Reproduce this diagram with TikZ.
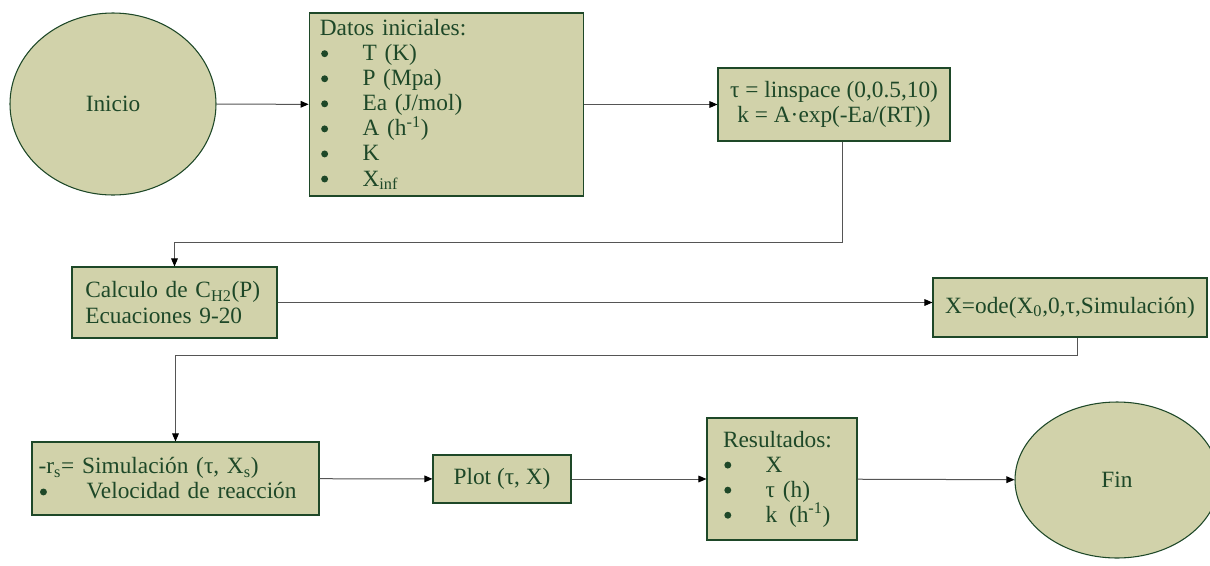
\documentclass[tikz,border=0pt]{standalone}
\usepackage{fontspec}
\setmainfont{Liberation Serif}
\usepackage{xcolor}
\usepackage{tikz}
\usetikzlibrary{shapes.geometric, arrows.meta, positioning}
\definecolor{olivefill}{RGB}{209,210,170}
\definecolor{darkgreen}{RGB}{30,72,40}
\definecolor{linegray}{RGB}{85,85,85}
\newcommand{\bigdot}{\tikz[baseline=0pt]\fill[darkgreen] (0,0.3em) circle (2.6pt);}
\newcommand{\bul}[1]{\makebox[32pt][l]{\hspace{1pt}\bigdot}#1}
\tikzset{
    block/.style={
        rectangle, draw=darkgreen, line width=0.8pt, fill=olivefill,
        text=darkgreen, inner sep=2pt, text centered,
        font=\fontsize{17.5}{18.8}\selectfont
    },
    listblock/.style={block, align=left},
    terminal/.style={
        ellipse, draw=darkgreen, line width=0.8pt, fill=olivefill,
        text=darkgreen, font=\fontsize{17.5}{18.8}\selectfont
    },
    arrow/.style={draw=linegray, line width=0.75pt, -{Triangle[length=6pt,width=5pt,color=black]}}
}

\begin{document}
\begin{tikzpicture}[x=0.75pt, y=-0.75pt]
    \useasboundingbox (0,0) rectangle (1210,565);
    % first row
    \node (inicio) [terminal, minimum width=154.5pt, minimum height=136.5pt] at (113,104) {Inicio};
    \node (datos) [listblock, inner xsep=8pt, text width=190pt, minimum height=137.25pt] at (446.5,104.5)
        {Datos iniciales:\\ \bul{T (K)}\\ \bul{P (Mpa)}\\ \bul{Ea (J/mol)}\\ \bul{A (h\textsuperscript{-1})}\\ \bul{K}\\ \bul{X\textsubscript{inf}}};
    \node (tau) [block, align=center, minimum width=174pt, minimum height=54.75pt] at (834,104.5)
        {τ = linspace (0,0.5,10)\\ k = A·exp(-Ea/(RT))};
    % second row
    \node (calc) [listblock, inner xsep=10pt, text width=133.75pt, minimum height=53.25pt] at (174.5,302.5)
        {Calculo de C\textsubscript{H2}(P)\\ Ecuaciones 9-20};
    \node (ode) [block, minimum width=205.5pt, minimum height=44.25pt] at (1070,307.5)
        {X=ode(X\textsubscript{0},0,τ,Simulación)};
    % third row
    \node (rs) [listblock, inner xsep=5pt, text width=205.25pt, minimum height=54.75pt] at (175.5,478.5)
        {-r\textsubscript{s}= Simulación (τ, X\textsubscript{s})\\ \makebox[36pt][l]{\hspace{1pt}\bigdot}Velocidad de reacción};
    \node (plot) [block, minimum width=103.5pt, minimum height=36pt] at (502,479) {Plot (τ, X)};
    \node (res) [listblock, inner xsep=12pt, text width=88.5pt, minimum height=91.5pt] at (782,479)
        {Resultados:\\ \bul{X}\\ \bul{τ (h)}\\ \bul{k\enspace(h\textsuperscript{-1})}};
    \node (fin) [terminal, minimum width=153pt, minimum height=117pt] at (1117,480) {Fin};
    \coordinate (bend1) at (842,242);
    \coordinate (bend2) at (1077,355);
    \draw [arrow] (inicio) -- (datos);
    \draw [arrow] (datos) -- (tau);
    \draw [arrow] (bend1 |- tau.south) -- (bend1) -| (calc.north);
    \draw [arrow] (calc.east) -- (calc.east -| ode.west);
    \draw [arrow] (bend2 |- ode.south) -- (bend2) -| (rs.north);
    \draw [arrow] (rs) -- (plot);
    \draw [arrow] (plot) -- (res);
    \draw [arrow] (res) -- (fin);
\end{tikzpicture}
\end{document}
